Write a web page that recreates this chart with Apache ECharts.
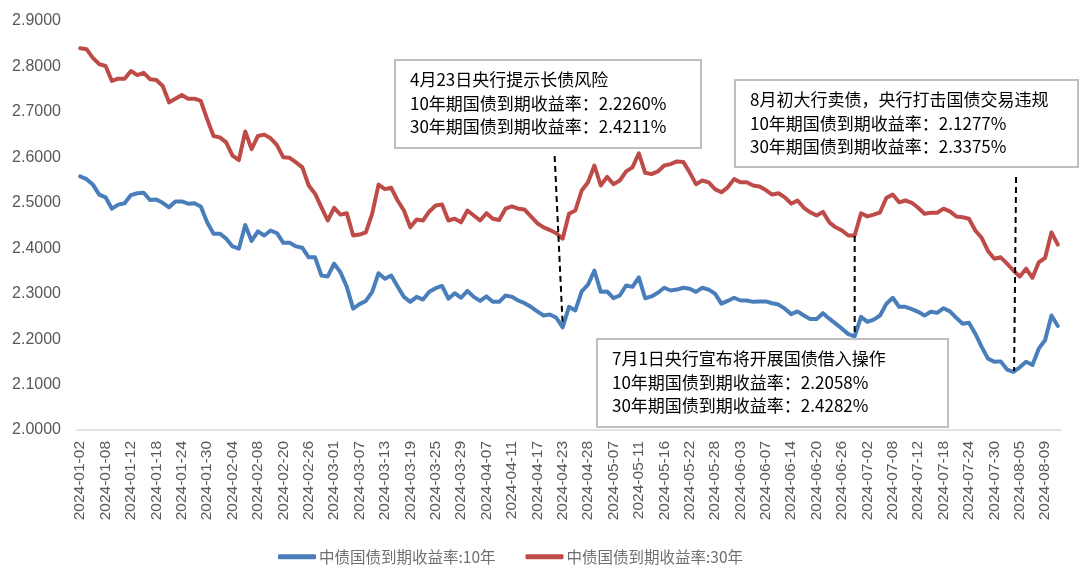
<!DOCTYPE html>
<html>
<head>
<meta charset="utf-8">
<style>
  html, body { margin: 0; padding: 0; background: #ffffff; }
  #chart { width: 1080px; height: 575px; }
</style>
<script src="https://cdn.jsdelivr.net/npm/echarts@6/dist/echarts.min.js"></script>
</head>
<body>
<div id="chart"></div>
<script>
// Trading days (China interbank bond market, 2024)
const dates = [
  '2024-01-02','2024-01-03','2024-01-04','2024-01-05','2024-01-08','2024-01-09','2024-01-10','2024-01-11','2024-01-12','2024-01-15',
  '2024-01-16','2024-01-17','2024-01-18','2024-01-19','2024-01-22','2024-01-23','2024-01-24','2024-01-25','2024-01-26','2024-01-29',
  '2024-01-30','2024-01-31','2024-02-01','2024-02-02','2024-02-04','2024-02-05','2024-02-06','2024-02-07','2024-02-08','2024-02-09',
  '2024-02-18','2024-02-19','2024-02-20','2024-02-21','2024-02-22','2024-02-23','2024-02-26','2024-02-27','2024-02-28','2024-02-29',
  '2024-03-01','2024-03-04','2024-03-05','2024-03-06','2024-03-07','2024-03-08','2024-03-11','2024-03-12','2024-03-13','2024-03-14',
  '2024-03-15','2024-03-18','2024-03-19','2024-03-20','2024-03-21','2024-03-22','2024-03-25','2024-03-26','2024-03-27','2024-03-28',
  '2024-03-29','2024-04-01','2024-04-02','2024-04-03','2024-04-07','2024-04-08','2024-04-09','2024-04-10','2024-04-11','2024-04-12',
  '2024-04-15','2024-04-16','2024-04-17','2024-04-18','2024-04-19','2024-04-22','2024-04-23','2024-04-24','2024-04-25','2024-04-26',
  '2024-04-28','2024-04-29','2024-04-30','2024-05-06','2024-05-07','2024-05-08','2024-05-09','2024-05-10','2024-05-11','2024-05-13',
  '2024-05-14','2024-05-15','2024-05-16','2024-05-17','2024-05-20','2024-05-21','2024-05-22','2024-05-23','2024-05-24','2024-05-27',
  '2024-05-28','2024-05-29','2024-05-30','2024-05-31','2024-06-03','2024-06-04','2024-06-05','2024-06-06','2024-06-07','2024-06-11',
  '2024-06-12','2024-06-13','2024-06-14','2024-06-17','2024-06-18','2024-06-19','2024-06-20','2024-06-21','2024-06-24','2024-06-25',
  '2024-06-26','2024-06-27','2024-06-28','2024-07-01','2024-07-02','2024-07-03','2024-07-04','2024-07-05','2024-07-08','2024-07-09',
  '2024-07-10','2024-07-11','2024-07-12','2024-07-15','2024-07-16','2024-07-17','2024-07-18','2024-07-19','2024-07-22','2024-07-23',
  '2024-07-24','2024-07-25','2024-07-26','2024-07-29','2024-07-30','2024-07-31','2024-08-01','2024-08-02','2024-08-05','2024-08-06',
  '2024-08-07','2024-08-08','2024-08-09','2024-08-12','2024-08-13'
];

// 中债国债到期收益率:10年
const y10 = [
  2.558,2.552,2.540,2.518,2.512,2.487,2.496,2.499,2.517,2.521,
  2.522,2.506,2.507,2.500,2.490,2.503,2.503,2.498,2.499,2.492,
  2.457,2.432,2.432,2.421,2.404,2.399,2.451,2.416,2.437,2.428,
  2.439,2.433,2.412,2.412,2.404,2.401,2.380,2.380,2.340,2.338,
  2.366,2.347,2.315,2.267,2.277,2.284,2.304,2.345,2.333,2.340,
  2.316,2.293,2.282,2.293,2.287,2.304,2.312,2.317,2.289,2.301,
  2.291,2.306,2.293,2.284,2.294,2.282,2.282,2.296,2.293,2.285,
  2.279,2.271,2.261,2.252,2.254,2.247,2.226,2.271,2.263,2.305,
  2.320,2.351,2.304,2.305,2.290,2.296,2.318,2.315,2.336,2.290,
  2.294,2.302,2.313,2.307,2.309,2.313,2.311,2.304,2.313,2.309,
  2.300,2.278,2.284,2.291,2.285,2.285,2.282,2.283,2.283,2.279,
  2.276,2.267,2.255,2.261,2.252,2.244,2.244,2.257,2.245,2.234,
  2.223,2.211,2.206,2.249,2.238,2.243,2.252,2.278,2.291,2.271,
  2.271,2.266,2.260,2.252,2.260,2.258,2.268,2.261,2.247,2.234,
  2.236,2.212,2.183,2.157,2.150,2.151,2.133,2.128,2.138,2.150,
  2.143,2.179,2.198,2.252,2.229
];

// 中债国债到期收益率:30年
const y30 = [
  2.840,2.838,2.819,2.805,2.801,2.768,2.773,2.773,2.790,2.781,
  2.786,2.772,2.770,2.757,2.721,2.729,2.737,2.729,2.729,2.724,
  2.684,2.647,2.644,2.633,2.604,2.594,2.657,2.618,2.647,2.650,
  2.642,2.627,2.600,2.599,2.589,2.578,2.538,2.520,2.490,2.461,
  2.489,2.474,2.477,2.428,2.430,2.435,2.476,2.540,2.530,2.533,
  2.505,2.483,2.446,2.463,2.461,2.481,2.494,2.496,2.461,2.465,
  2.457,2.483,2.472,2.461,2.477,2.465,2.462,2.487,2.492,2.487,
  2.485,2.470,2.455,2.446,2.440,2.433,2.421,2.476,2.483,2.527,
  2.545,2.582,2.538,2.557,2.541,2.549,2.569,2.578,2.609,2.566,
  2.563,2.569,2.582,2.585,2.591,2.590,2.567,2.541,2.549,2.545,
  2.530,2.523,2.534,2.552,2.545,2.545,2.538,2.536,2.528,2.518,
  2.521,2.512,2.498,2.505,2.489,2.479,2.472,2.480,2.457,2.446,
  2.439,2.428,2.428,2.477,2.470,2.474,2.479,2.511,2.518,2.501,
  2.505,2.500,2.489,2.476,2.478,2.478,2.487,2.481,2.470,2.468,
  2.465,2.439,2.423,2.394,2.377,2.380,2.366,2.351,2.3375,2.355,
  2.335,2.369,2.379,2.435,2.408
];

const seriesNames = ['中债国债到期收益率:10年', '中债国债到期收益率:30年'];
const yTicks = { min: 2.0, max: 2.9, interval: 0.1 };

const notes = [
  ['4月23日央行提示长债风险', '10年期国债到期收益率：2.2260%', '30年期国债到期收益率：2.4211%'],
  ['8月初大行卖债，央行打击国债交易违规', '10年期国债到期收益率：2.1277%', '30年期国债到期收益率：2.3375%'],
  ['7月1日央行宣布将开展国债借入操作', '10年期国债到期收益率：2.2058%', '30年期国债到期收益率：2.4282%']
];

const chart = echarts.init(document.getElementById('chart'), null, { renderer: 'canvas' });
const gray = '#595959';
const latin = "'Liberation Sans', 'Noto Sans CJK SC', sans-serif";
const cjk = "'Noto Sans CJK SC', sans-serif";

chart.setOption({
  animation: false,
  backgroundColor: '#ffffff',
  grid: { left: 77, right: 19, top: 21, bottom: 145, containLabel: false },
  legend: {
    data: seriesNames,
    top: 544,
    left: 273,
    itemWidth: 38,
    itemHeight: 5,
    itemGap: 30,
    icon: 'roundRect',
    textStyle: { color: '#6f6f6f', fontSize: 15.5, fontFamily: cjk, padding: [0, 0, 0, -2] }
  },
  xAxis: {
    type: 'category',
    data: dates,
    boundaryGap: true,
    axisLine: { lineStyle: { color: '#d9d9d9', width: 1.5 } },
    axisTick: { show: false },
    axisLabel: {
      interval: 3,
      rotate: 90,
      margin: 11,
      color: gray,
      fontSize: 15.5,
      fontFamily: latin
    },
    splitLine: { show: false }
  },
  yAxis: {
    type: 'value',
    min: yTicks.min,
    max: yTicks.max,
    interval: yTicks.interval,
    axisLine: { show: false },
    axisTick: { show: false },
    splitLine: { show: false },
    axisLabel: {
      margin: 16,
      color: gray,
      fontSize: 16,
      fontFamily: latin,
      formatter: v => v.toFixed(4)
    }
  },
  series: [
    {
      name: seriesNames[0], type: 'line', data: y10, symbol: 'none',
      lineStyle: { color: '#4a7ebb', width: 4, join: 'round', cap: 'round' },
      itemStyle: { color: '#4a7ebb' }
    },
    {
      name: seriesNames[1], type: 'line', data: y30, symbol: 'none',
      lineStyle: { color: '#be4b48', width: 4, join: 'round', cap: 'round' },
      itemStyle: { color: '#be4b48' }
    }
  ]
});

function px(i) { return chart.convertToPixel({ xAxisIndex: 0 }, dates[i]); }

function box(x, y, w, h, lines) {
  const els = [{
    type: 'rect', shape: { x: x, y: y, width: w, height: h },
    style: { fill: '#ffffff', stroke: '#bfbfbf', lineWidth: 2 }, z: 10
  }];
  lines.forEach((t, k) => {
    els.push({
      type: 'text', x: x + 15, y: y + 20 + k * 23.5, z: 11,
      style: { text: t, fill: '#000000', font: "17px 'Noto Sans CJK SC', sans-serif", verticalAlign: 'middle', align: 'left' }
    });
  });
  return els;
}

function dash(x1, y1, x2, y2) {
  return {
    type: 'line', z: 9,
    shape: { x1: x1, y1: y1, x2: x2, y2: y2 },
    style: { stroke: '#000000', lineWidth: 2, lineDash: [6, 4] }
  };
}

const xa = px(76), xb = px(122), xc = px(147);
chart.setOption({
  graphic: [].concat(
    box(395, 60, 306, 88, notes[0]),
    box(735, 80, 343, 87, notes[1]),
    box(597, 339, 351, 88, notes[2]),
    [
      dash(xa - 8, 156, xa, 325),
      dash(xb, 236, xb, 336),
      dash(xc + 2.7, 177, xc + 0.7, 371)
    ]
  )
});
</script>
</body>
</html>
